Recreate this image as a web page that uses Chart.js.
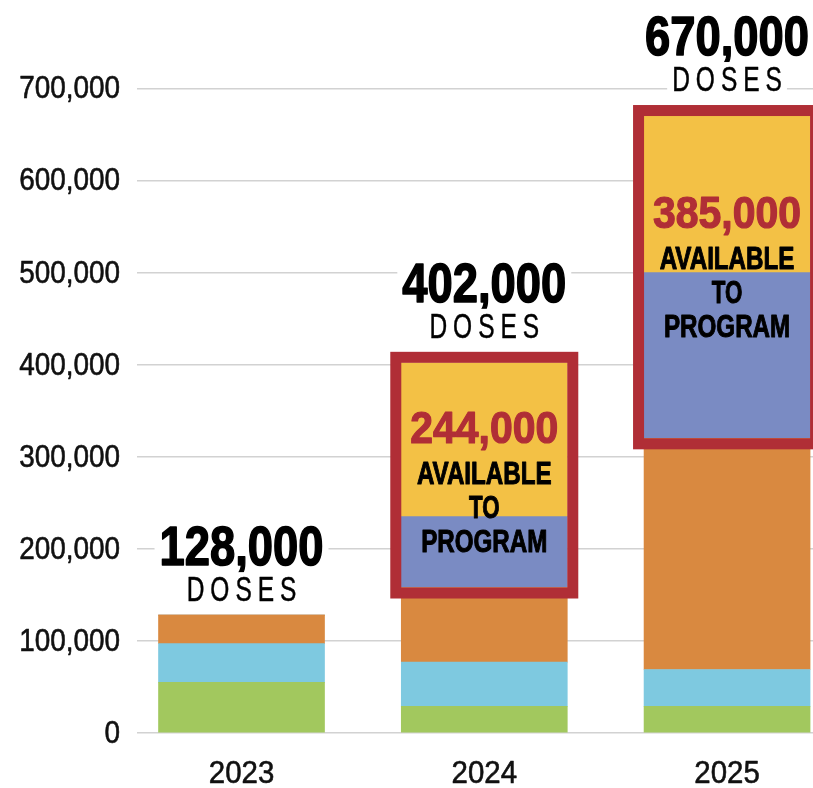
<!DOCTYPE html>
<html>
<head>
<meta charset="utf-8">
<script src="https://cdn.jsdelivr.net/npm/chart.js@4.4.1/dist/chart.umd.min.js"></script>
<style>
  html, body { margin: 0; padding: 0; background: #fff; overflow: hidden; }
  #wrap { position: relative; width: 813px; height: 788px; }
</style>
</head>
<body>
<div id="wrap"><canvas id="dosesChart"></canvas></div>
<script>
// Datos (dosis por año, de abajo hacia arriba)
const years = ['2023', '2024', '2025'];
const yTicks = [0, 100000, 200000, 300000, 400000, 500000, 600000, 700000];
const green = [55000, 29000, 29000];
const lightBlue = [42000, 48000, 40000];
const orange = [31000, 81000, 251000];
const purple = [0, 77000, 180000];
const yellow = [0, 167000, 170000];
const totalLabels = ['128,000', '402,000', '670,000'];
const availableLabels = ['', '244,000', '385,000'];

const FONT = "'Liberation Sans', Arial, sans-serif";
const RED = '#B02E36';
const BOX_LW = 11;

// Texto comprimido horizontalmente (imita una fuente condensada)
function drawSquashed(ctx, text, x0, baseline, font, sx, spacing, color, bgHeight, align = 'center', heavy = 0) {
  ctx.save();
  ctx.font = font;
  ctx.textAlign = 'left';
  ctx.textBaseline = 'alphabetic';
  const chars = [...text];
  let total;
  let widths = [];
  if (spacing === 0) {
    total = ctx.measureText(text).width * sx;
  } else {
    widths = chars.map(c => ctx.measureText(c).width * sx);
    total = widths.reduce((a, b) => a + b, 0) + spacing * (chars.length - 1);
  }
  let x = align === 'right' ? x0 - total : x0 - total / 2;
  if (bgHeight) {
    ctx.fillStyle = '#fff';
    ctx.fillRect(x - 5, baseline - bgHeight - 4, total + 10, bgHeight + 8);
  }
  ctx.fillStyle = color;
  ctx.strokeStyle = color;
  ctx.lineWidth = heavy;
  ctx.lineJoin = 'round';
  const paint = t => {
    ctx.fillText(t, 0, 0);
    if (heavy) ctx.strokeText(t, 0, 0);
  };
  if (spacing === 0) {
    ctx.translate(x, baseline);
    ctx.scale(sx, 1);
    paint(text);
  } else {
    chars.forEach((c, i) => {
      ctx.save();
      ctx.translate(x, baseline);
      ctx.scale(sx, 1);
      paint(c);
      ctx.restore();
      x += widths[i] + spacing;
    });
  }
  ctx.restore();
}

const innerOffsets = [0, 80, 112];

// Etiquetas de ejes dibujadas con las escalas de Chart.js (fuente estrecha)
const axisLabelsPlugin = {
  id: 'axisLabels',
  afterDraw(chart) {
    const ctx = chart.ctx;
    const { x: xScale, y: yScale } = chart.scales;
    const area = chart.chartArea;
    yTicks.forEach(v => {
      const py = yScale.getPixelForValue(v);
      drawSquashed(ctx, v.toLocaleString('en-US'), area.left - 17, py + 10, '31px ' + FONT, 0.9, 0, '#111', 0, 'right', 0.6);
    });
    years.forEach((yr, i) => {
      const px = xScale.getPixelForValue(i);
      drawSquashed(ctx, yr, px, area.bottom + 50, '32px ' + FONT, 0.92, 0, '#111', 0, 'center', 0.6);
    });
  }
};

const labelsPlugin = {
  id: 'doseLabels',
  afterDatasetsDraw(chart) {
    const ctx = chart.ctx;
    const yScale = chart.scales.y;
    const bars = chart.getDatasetMeta(0).data;
    years.forEach((yr, i) => {
      const bar = bars[i];
      const cx = bar.x;
      const half = bar.width / 2;
      const totalVal = green[i] + lightBlue[i] + orange[i] + purple[i] + yellow[i];
      const topPx = yScale.getPixelForValue(totalVal);
      let refTop = topPx;
      if (availableLabels[i]) {
        const baseVal = green[i] + lightBlue[i] + orange[i];
        const basePx = yScale.getPixelForValue(baseVal);
        ctx.save();
        ctx.strokeStyle = RED;
        ctx.lineWidth = BOX_LW;
        ctx.strokeRect(cx - half - BOX_LW / 2, topPx - BOX_LW / 2, 2 * half + BOX_LW, basePx - topPx + BOX_LW);
        ctx.restore();
        refTop = topPx - BOX_LW;
        const nb = topPx + innerOffsets[i];
        drawSquashed(ctx, availableLabels[i], cx, nb, 'bold 44px ' + FONT, 0.93, 0, RED, 0, 'center', 1.2);
        drawSquashed(ctx, 'AVAILABLE', cx, nb + 41, 'bold 31px ' + FONT, 0.78, 0, '#000', 0, 'center', 1);
        drawSquashed(ctx, 'TO', cx, nb + 75, 'bold 31px ' + FONT, 0.72, 0, '#000', 0, 'center', 1);
        drawSquashed(ctx, 'PROGRAM', cx, nb + 109, 'bold 31px ' + FONT, 0.78, 0, '#000', 0, 'center', 1);
      }
      drawSquashed(ctx, totalLabels[i], cx, refTop - 50, 'bold 56px ' + FONT, 0.81, 0, '#000', 40, 'center', 1.6);
      drawSquashed(ctx, 'DOSES', cx, refTop - 14, '35px ' + FONT, 0.7, 6, '#000', 25, 'center', 0.5);
    });
  }
};

const toPoints = arr => arr.map((v, i) => ({ x: i, y: v }));

const ctx = document.getElementById('dosesChart').getContext('2d');
new Chart(ctx, {
  type: 'bar',
  data: {
    datasets: [
      { label: 'green', data: toPoints(green), backgroundColor: '#A2C85E' },
      { label: 'lightBlue', data: toPoints(lightBlue), backgroundColor: '#7EC9E0' },
      { label: 'orange', data: toPoints(orange), backgroundColor: '#D98940' },
      { label: 'purple', data: toPoints(purple), backgroundColor: '#7A8BC3' },
      { label: 'yellow', data: toPoints(yellow), backgroundColor: '#F3C145' },
    ],
  },
  options: {
    responsive: true,
    maintainAspectRatio: false,
    animation: false,
    layout: { padding: 0 },
    datasets: { bar: { barThickness: 166, borderWidth: 0 } },
    plugins: { legend: { display: false }, tooltip: { enabled: false } },
    scales: {
      x: {
        type: 'linear',
        stacked: true,
        offset: false,
        min: -0.4305,
        max: 2.354,
        grid: { display: false, drawTicks: false },
        border: { display: false },
        afterBuildTicks: scale => { scale.ticks = years.map((_, i) => ({ value: i })); },
        afterFit: scale => { scale.height = 55; scale.paddingLeft = 0; scale.paddingRight = 0; },
        ticks: { display: false },
      },
      y: {
        stacked: true,
        min: 0,
        max: 796000,
        grid: { color: '#d2d2d2', lineWidth: 1.5, drawTicks: false },
        border: { display: false },
        afterBuildTicks: scale => { scale.ticks = yTicks.map(v => ({ value: v })); },
        afterFit: scale => { scale.width = 137; scale.paddingTop = 0; scale.paddingBottom = 0; },
        ticks: { display: false },
      },
    },
  },
  plugins: [labelsPlugin, axisLabelsPlugin],
});
</script>
</body>
</html>
